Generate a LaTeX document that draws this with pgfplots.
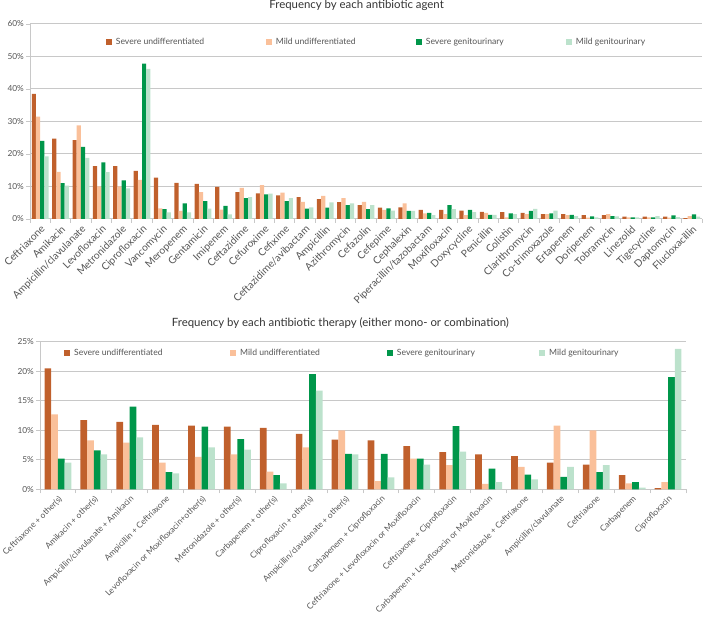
\documentclass[border=0pt]{standalone}
\usepackage{fontspec}
\setmainfont{Lato}
\usepackage{pgfplots}
\pgfplotsset{compat=1.18}
\usepackage{pgfplotstable}

\definecolor{su}{RGB}{192,96,44}
\definecolor{mu}{RGB}{250,192,154}
\definecolor{sg}{RGB}{0,150,74}
\definecolor{mg}{RGB}{188,226,204}
\definecolor{gridc}{RGB}{200,200,200}
\definecolor{txt}{RGB}{85,85,85}

\pgfplotstableread{
x su mu sg mg
0 38.5 31.5 24.0 19.3
1 24.7 14.5 11.0 10.3
2 24.3 28.8 22.2 18.8
3 16.3 10.0 17.4 14.4
4 16.3 10.0 11.9 9.4
5 14.8 12.0 47.8 46.2
6 12.7 3.3 3.0 2.0
7 11.1 2.5 4.8 2.0
8 10.8 8.3 5.5 3.2
9 9.9 2.9 4.0 1.4
10 8.3 9.6 6.4 6.7
11 7.9 10.4 7.6 7.8
12 7.3 8.1 5.5 6.4
13 6.7 5.3 3.2 3.6
14 6.1 7.1 3.5 5.1
15 5.2 6.4 4.3 4.8
16 4.3 5.3 3.0 4.3
17 3.5 2.8 3.3 2.6
18 3.6 4.8 2.5 2.5
19 2.8 1.7 1.9 1.2
20 2.8 1.5 4.3 3.0
21 2.6 1.2 2.8 2.1
22 2.2 1.9 1.3 1.3
23 2.1 0.5 1.7 1.5
24 1.9 1.5 2.5 3.1
25 1.5 1.5 1.7 2.6
26 1.5 1.2 1.3 0.9
27 1.2 0.4 0.8 0.5
28 1.2 1.5 0.9 0.8
29 0.7 0.5 0.5 0.5
30 0.7 0.5 0.5 0.9
31 0.7 0.4 1.1 0.6
32 0.3 0.9 1.4 0.7
}\agent

\pgfplotstableread{
x su mu sg mg
0 20.5 12.7 5.2 4.5
1 11.7 8.3 6.6 5.9
2 11.4 7.9 14.0 8.8
3 10.9 4.5 2.9 2.7
4 10.8 5.5 10.6 7.1
5 10.6 5.9 8.5 6.7
6 10.4 3.0 2.4 1.0
7 9.4 7.1 19.5 16.7
8 8.4 10.0 6.0 5.9
9 8.3 1.4 6.0 2.0
10 7.3 5.2 5.2 4.2
11 6.3 4.1 10.7 6.4
12 5.9 0.9 3.5 1.2
13 5.6 3.8 2.5 1.7
14 4.5 10.8 2.1 3.8
15 4.2 10.0 2.9 4.1
16 2.4 1.0 1.2 0.3
17 0.2 1.2 19.0 23.8
}\therapy

\pgfplotsset{
  common/.style={
    scale only axis,
    ybar=0pt,
    axis x line*=bottom, axis y line*=left,
    axis line style={draw=gridc, line width=1pt},
    ymajorgrids, grid style={draw=gridc, line width=1pt},
    ymin=0,
    xmin=-0.5,
    tick style={draw=gridc, line width=0.8pt},
    major x tick style={draw=none},
    tick align=outside,
    major tick length=4pt, minor tick length=4pt,
    xtick=data,
    x tick label style={rotate=45, anchor=north east, inner sep=1pt, text=txt},
    y tick label style={font=\fontsize{8.3}{9}\selectfont, text=txt, inner sep=2pt},
    /pgf/number format/assume math mode=true,
    title style={font=\fontsize{11.4}{13}\selectfont, text=black!80, anchor=center},
    legend columns=4,
    legend style={draw=none, fill=none, inner sep=0pt, anchor=west,
      font=\fontsize{8.6}{10}\selectfont, text=txt,
      nodes={inner sep=0pt},
      /tikz/every odd column/.append style={column sep=4pt}},
    every axis plot post/.append style={draw=none,
      legend image code/.code={\fill[##1] (0pt,-3pt) rectangle (6pt,3pt);}},
  }
}

\begin{document}
\begin{tikzpicture}
\useasboundingbox (0,0) rectangle (703pt,617pt);

\begin{axis}[common,
  at={(30pt,398pt)}, anchor=south west,
  width=672pt, height=195pt,
  xmax=32.5, ymax=60,
  bar width=4.2pt,
  ytick={0,10,...,60},
  yticklabels={0\%,10\%,20\%,30\%,40\%,50\%,60\%},
  minor xtick={-0.5,0.5,...,32.5},
  x tick label style={font=\fontsize{10.2}{12}\selectfont},
  xticklabels={Ceftriaxone,Amikacin,Ampicillin/clavulanate,Levofloxacin,Metronidazole,Ciprofloxacin,Vancomycin,Meropenem,Gentamicin,Imipenem,Ceftazidime,Cefuroxime,Cefixime,Ceftazidime/avibactam,Ampicillin,Azithromycin,Cefazolin,Cefepime,Cephalexin,Piperacillin/tazobactam,Moxifloxacin,Doxycycline,Penicillin,Colistin,Clarithromycin,Co-trimoxazole,Ertapenem,Doripenem,Tobramycin,Linezolid,Tigecycline,Daptomycin,Flucloxacillin},
  title={Frequency by each antibiotic agent},
  title style={at={(axis description cs:0.486,1)}, yshift=13pt},
  legend style={at={(axis description cs:0.1126,0.9077)}},
]
\addplot[fill=su] table[x=x,y=su]{\agent};
\addlegendentry{\makebox[150pt][l]{Severe undifferentiated}}
\addplot[fill=mu] table[x=x,y=mu]{\agent};
\addlegendentry{\makebox[140pt][l]{Mild undifferentiated}}
\addplot[fill=sg] table[x=x,y=sg]{\agent};
\addlegendentry{\makebox[140pt][l]{Severe genitourinary}}
\addplot[fill=mg] table[x=x,y=mg]{\agent};
\addlegendentry{Mild genitourinary}
\end{axis}

\begin{axis}[common,
  at={(40pt,127.7pt)}, anchor=south west,
  width=646pt, height=147.6pt,
  xmax=17.5, ymax=25,
  bar width=6.7pt,
  ytick={0,5,...,25},
  yticklabels={0\%,5\%,10\%,15\%,20\%,25\%},
  minor xtick={-0.5,0.5,...,17.5},
  x tick label style={font=\fontsize{8.4}{10}\selectfont},
  xticklabels={Ceftriaxone + other(s),Amikacin + other(s),Ampicillin/clavulanate + Amikacin,Ampicillin + Ceftriaxone,Levofloxacin or Moxifloxacin+other(s),Metronidazole + other(s),Carbapenem + other(s),Ciprofloxacin + other(s),Ampicillin/clavulanate + other(s),Carbapenem + Ciprofloxacin,Ceftriaxone + Levofloxacin or Moxifloxacin,Ceftriaxone + Ciprofloxacin,Carbapenem + Levofloxacin or Moxifloxacin,Metronidazole + Ceftriaxone,Ampicillin/clavulanate,Ceftriaxone,Carbapenem,Ciprofloxacin},
  title={Frequency by each antibiotic therapy (either mono- or combination)},
  title style={at={(axis description cs:0.465,1)}, yshift=12.5pt},
  legend style={at={(axis description cs:0.0372,0.925)}},
]
\addplot[fill=su] table[x=x,y=su]{\therapy};
\addlegendentry{\makebox[156pt][l]{Severe undifferentiated}}
\addplot[fill=mu] table[x=x,y=mu]{\therapy};
\addlegendentry{\makebox[146.7pt][l]{Mild undifferentiated}}
\addplot[fill=sg] table[x=x,y=sg]{\therapy};
\addlegendentry{\makebox[142.3pt][l]{Severe genitourinary}}
\addplot[fill=mg] table[x=x,y=mg]{\therapy};
\addlegendentry{Mild genitourinary}
\end{axis}
\end{tikzpicture}
\end{document}
